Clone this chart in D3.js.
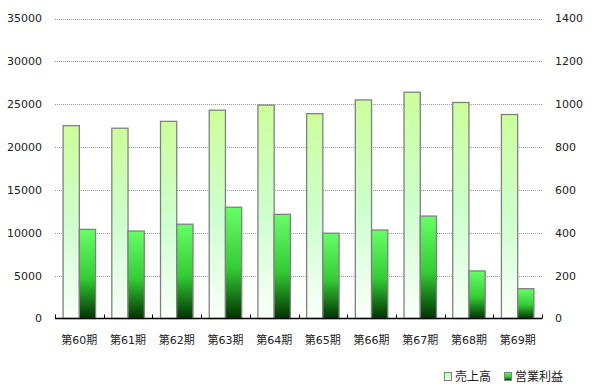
<!DOCTYPE html>
<html lang="ja">
<head>
<meta charset="UTF-8">
<title>売上高・営業利益</title>
<script src="https://d3js.org/d3.v7.min.js"></script>
<style>
  body { margin: 0; background: #fff; }
  text { font-family: "DejaVu Sans", "Noto Sans CJK JP", sans-serif; fill: #222; }
</style>
</head>
<body>
<div id="chart"></div>
<script>
// data
const periods = ["第60期", "第61期", "第62期", "第63期", "第64期", "第65期", "第66期", "第67期", "第68期", "第69期"];
const sales = [22500, 22200, 23000, 24300, 24900, 23900, 25500, 26400, 25200, 23800];
const profit = [416, 408, 440, 519, 486, 398, 413, 478, 222, 139];
const leftTicks = [0, 5000, 10000, 15000, 20000, 25000, 30000, 35000];
const rightTicks = [0, 200, 400, 600, 800, 1000, 1200, 1400];
const seriesNames = ["売上高", "営業利益"];

const width = 592, height = 389;
const plotLeft = 55, plotRight = 542, plotTop = 18.5, plotBottom = 318.5;

const svg = d3.select("#chart").append("svg")
    .attr("width", width)
    .attr("height", height);

const defs = svg.append("defs");
const gSales = defs.append("linearGradient").attr("id", "gSales")
    .attr("x1", 0).attr("y1", 0).attr("x2", 0).attr("y2", 1);
gSales.append("stop").attr("offset", "0%").attr("stop-color", "#ccff99");
gSales.append("stop").attr("offset", "50%").attr("stop-color", "#ccffcc");
gSales.append("stop").attr("offset", "100%").attr("stop-color", "#fafffa");

const gProfit = defs.append("linearGradient").attr("id", "gProfit")
    .attr("x1", 0).attr("y1", 0).attr("x2", 0).attr("y2", 1);
gProfit.append("stop").attr("offset", "0%").attr("stop-color", "#66ff66");
gProfit.append("stop").attr("offset", "55%").attr("stop-color", "#33cc33");
gProfit.append("stop").attr("offset", "100%").attr("stop-color", "#003300");

const x0 = d3.scaleBand().domain(periods).range([plotLeft, plotRight]).paddingInner(0).paddingOuter(0);
const x1 = d3.scaleBand().domain(seriesNames).range([0, x0.bandwidth()]).paddingInner(0).paddingOuter(0.5);
const yL = d3.scaleLinear().domain([0, 35000]).range([plotBottom, plotTop]);
const yR = d3.scaleLinear().domain([0, 1400]).range([plotBottom, plotTop]);

// grid lines
svg.append("g").selectAll("line")
    .data(leftTicks.filter(d => d > 0))
    .enter().append("line")
    .attr("x1", plotLeft).attr("x2", plotRight)
    .attr("y1", d => Math.round(yL(d)) + 0.5)
    .attr("y2", d => Math.round(yL(d)) + 0.5)
    .attr("stroke", "#999")
    .attr("stroke-dasharray", "1,1");

// left axis labels
svg.append("g").selectAll("text")
    .data(leftTicks)
    .enter().append("text")
    .attr("x", 42)
    .attr("y", d => yL(d))
    .attr("dy", "0.36em")
    .attr("text-anchor", "end")
    .attr("font-size", 11)
    .text(d => d);

// right axis labels
svg.append("g").selectAll("text")
    .data(rightTicks)
    .enter().append("text")
    .attr("x", 555)
    .attr("y", d => yR(d))
    .attr("dy", "0.36em")
    .attr("text-anchor", "start")
    .attr("font-size", 11)
    .text(d => d);

// bars
const groups = svg.append("g").selectAll("g")
    .data(periods)
    .enter().append("g")
    .attr("transform", d => `translate(${x0(d)},0)`);

groups.append("rect")
    .attr("x", x1("売上高"))
    .attr("y", (d, i) => yL(sales[i]))
    .attr("width", x1.bandwidth())
    .attr("height", (d, i) => plotBottom - yL(sales[i]))
    .attr("fill", "url(#gSales)")
    .attr("stroke", "#808080")
    .attr("stroke-width", 1.3);

groups.append("rect")
    .attr("x", x1("営業利益"))
    .attr("y", (d, i) => yR(profit[i]))
    .attr("width", x1.bandwidth())
    .attr("height", (d, i) => plotBottom - yR(profit[i]))
    .attr("fill", "url(#gProfit)")
    .attr("stroke", "#808080")
    .attr("stroke-width", 1.3);

// baseline and ticks
svg.append("line")
    .attr("x1", plotLeft).attr("x2", plotRight)
    .attr("y1", plotBottom).attr("y2", plotBottom)
    .attr("stroke", "#000").attr("stroke-width", 1.5);

const tickPos = periods.map(p => x0(p)).concat([plotRight]);
svg.append("g").selectAll("line")
    .data(tickPos)
    .enter().append("line")
    .attr("x1", d => Math.round(d) + 0.5).attr("x2", d => Math.round(d) + 0.5)
    .attr("y1", plotBottom).attr("y2", plotBottom - 4)
    .attr("stroke", "#000");

// category labels
svg.append("g").selectAll("text")
    .data(periods)
    .enter().append("text")
    .attr("x", d => x0(d) + x0.bandwidth() / 2)
    .attr("y", 340)
    .attr("dy", "0.36em")
    .attr("text-anchor", "middle")
    .attr("font-size", 11)
    .text(d => d);

// legend
const legend = svg.append("g");
const legendItems = [
    { name: seriesNames[0], fill: "url(#gSales)", x: 444 },
    { name: seriesNames[1], fill: "url(#gProfit)", x: 504 }
];
legendItems.forEach(it => {
    legend.append("rect")
        .attr("x", it.x + 0.5).attr("y", 372.5)
        .attr("width", 7).attr("height", 8)
        .attr("fill", it.fill)
        .attr("stroke", "#808080");
    legend.append("text")
        .attr("x", it.x + 11)
        .attr("y", 377)
        .attr("dy", "0.36em")
        .attr("font-size", 12)
        .text(it.name);
});
</script>
</body>
</html>
